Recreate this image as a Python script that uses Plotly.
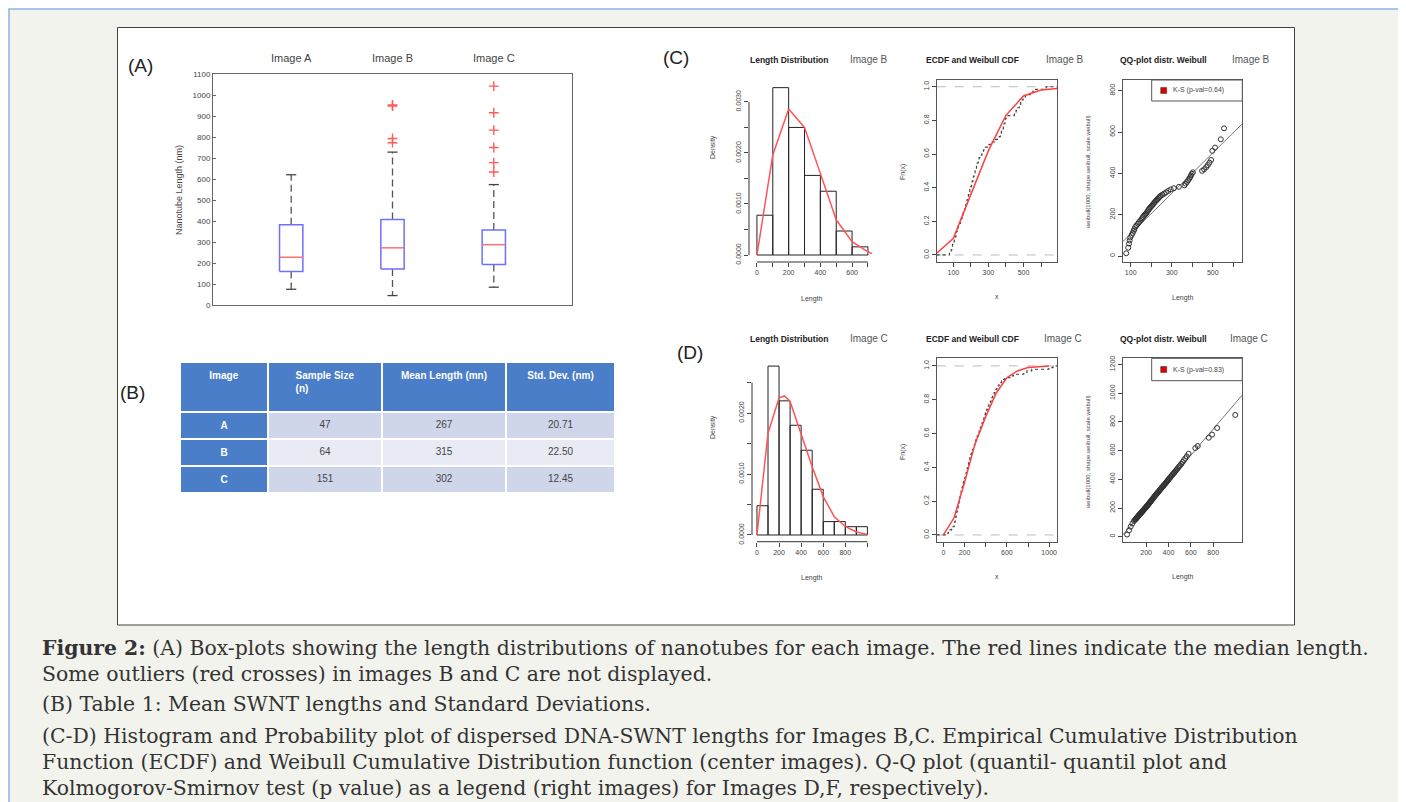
import plotly.graph_objects as go

OFF = 8  # browser body margin
W, H = 1406 - OFF, 802 - OFF
def px_x(p): return (p - OFF) / W
def px_y(p): return 1 - (p - OFF) / H

FONT = "Liberation Sans, Arial, sans-serif"
SERIF = "DejaVu Serif, serif"
TXT = "#333333"
BLUE = "#4a7ec8"

# ---------------- data ----------------
# (A) box plots
box_names = ["Image A", "Image B", "Image C"]
box_pos = [1, 2, 3]
box_q1 = [160, 172, 193]
box_med = [228, 273, 288]
box_q3 = [383, 408, 358]
box_lo = [75, 45, 85]
box_hi = [622, 730, 575]
outlier_pos = [2, 2, 2, 2, 3, 3, 3, 3, 3, 3]
outlier_val = [775, 795, 950, 955, 635, 680, 752, 835, 918, 1045]
box_yticks = list(range(0, 1101, 100))

# (B) table
table_header = ["Image", "Sample Size<br>(n)", "Mean Length (mn)", "Std. Dev. (nm)"]
table_image = ["A", "B", "C"]
table_n = [47, 64, 151]
table_mean = [267, 315, 302]
table_sd = ["20.71", "22.50", "12.45"]

# (C) Image B
histB_edges = [0, 100, 200, 300, 400, 500, 600, 700]
histB_density = [0.00078, 0.00328, 0.0025, 0.00156, 0.00125, 0.00047, 0.00016]
fitB_x = [0, 100, 200, 300, 400, 500, 600, 700, 725]
fitB_density = [0, 0.00196, 0.00286, 0.0025, 0.0016, 0.00069, 0.00026, 0.00006, 0.00003]
cdfB_x = [5, 100, 200, 300, 400, 500, 600, 693]
cdfB_F = [0.01, 0.099, 0.36, 0.62, 0.83, 0.945, 0.98, 0.99]
sampleB = [78, 88, 92, 95, 98, 105, 110, 115, 118, 122, 128, 135, 140, 146,
           152, 156, 160, 165, 170, 174, 178, 182, 186, 190, 194, 198,
           203, 207, 211, 215, 219, 224, 228, 232, 237, 242, 247,
           255, 263, 272, 283, 295,
           310, 335, 362, 368, 374, 380, 385, 390, 394, 398,
           403, 448, 458, 468, 476, 484, 492, 498, 511, 539, 555, 630]
theoB = [13, 40, 60, 75, 90, 102, 112, 122, 130, 140, 148, 156, 163, 170,
         177, 183, 189, 195, 200, 205, 210, 216, 222, 228, 233, 238,
         243, 248, 253, 258, 263, 268, 272, 277, 282, 287, 292,
         297, 302, 308, 315, 322,
         328, 335, 342, 350, 358, 366, 374, 382, 390, 398,
         405, 412, 420, 430, 440, 452, 465, 509, 525, 565, 618, 816]
qqlineB_x = [61, 644]
qqlineB_y = [69, 640]
ksB = "K-S (p-val=0.64)"

# (D) Image C
histC_edges = [0, 100, 200, 300, 400, 500, 600, 700, 800, 900, 1000]
histC_density = [0.00048, 0.00277, 0.0022, 0.0018, 0.00139, 0.00075, 0.00022, 0.00022, 0.000136, 0.000136]
fitC_x = [0, 100, 200, 250, 300, 400, 500, 600, 700, 800, 900, 1000]
fitC_density = [0, 0.00167, 0.00225, 0.00228, 0.00219, 0.00164, 0.00112, 0.00063, 0.0003, 0.00014, 0.00005, 0.00001]
cdfC_x = [0, 100, 200, 300, 400, 500, 600, 700, 800, 900, 1000]
cdfC_F = [0, 0.1, 0.31, 0.54, 0.70, 0.84, 0.93, 0.97, 0.99, 0.995, 1.0]
sampleC = [30, 48, 62, 78, 92,
           102, 105, 108, 112, 115, 118, 122, 125, 128, 132, 135, 138, 142, 145, 148, 152, 155, 158, 162, 165,
           168, 172, 175, 180, 184, 188, 193, 197,
           202, 206, 210, 214, 218, 222, 226, 230, 234, 238, 242, 246, 250, 255, 260, 265, 270, 276, 282, 288, 294, 299,
           303, 309, 315, 320, 326, 332, 338, 344, 350, 355, 360, 366, 372, 378, 384, 389, 394, 398,
           403, 410, 417, 424, 431, 438, 445, 452, 459, 466, 473, 480, 488, 496,
           505, 515, 526, 538, 550, 563, 580, 640, 662, 760, 790, 835, 997, 1036]
theoC = [15, 45, 70, 92, 110,
         118, 121, 124, 127, 130, 133, 136, 139, 142, 145, 148, 151, 154, 157, 160, 163, 166, 169, 172, 175,
         178, 181, 184, 188, 192, 196, 200, 204,
         208, 212, 216, 219, 223, 227, 231, 235, 239, 243, 247, 251, 255, 260, 265, 270, 275, 281, 287, 293, 298, 303,
         307, 312, 318, 323, 329, 334, 340, 345, 350, 355, 360, 365, 371, 376, 382, 387, 392, 396,
         401, 408, 414, 421, 428, 434, 441, 447, 454, 461, 467, 474, 482, 490,
         498, 508, 520, 533, 546, 560, 578, 618, 632, 690, 712, 758, 849, 1198]
qqlineC_x = [-9, 1060]
qqlineC_y = [12, 988]
ksC = "K-S (p-val=0.83)"

caption_lines = [
    "<b>Figure 2:</b> (A) Box-plots showing the length distributions of nanotubes for each image. The red lines indicate the median length.",
    "Some outliers (red crosses) in images B and C are not displayed.",
    "(B) Table 1: Mean SWNT lengths and Standard Deviations.",
    "(C-D) Histogram and Probability plot of dispersed DNA-SWNT lengths for Images B,C. Empirical Cumulative Distribution",
    "Function (ECDF) and Weibull Cumulative Distribution function (center images). Q-Q plot (quantil- quantil plot and",
    "Kolmogorov-Smirnov test (p value) as a legend (right images) for Images D,F, respectively).",
]
caption_y = [648, 674, 704, 736, 762, 788]

# ---------------- figure ----------------
fig = go.Figure()
axes = {}
shapes = []
annots = []

def ann(text, x, y, size, color=TXT, family=FONT, xanchor="center", angle=0, bold=False):
    annots.append(dict(text=("<b>%s</b>" % text) if bold else text, x=px_x(x), y=px_y(y),
                       xref="paper", yref="paper", showarrow=False, xanchor=xanchor, yanchor="middle",
                       textangle=angle, font=dict(size=size, color=color, family=family)))

def add_axes(n, xd, yd, xr, yr, xt, xl, yt, yl, frame, fs=7):
    s = "" if n == 1 else str(n)
    common = dict(showgrid=False, zeroline=False, automargin=False, ticks="outside", ticklen=4,
                  tickcolor="#444", tickwidth=1, tickfont=dict(size=fs, color="#444", family=FONT),
                  showline=frame, mirror=frame, linecolor="#555", linewidth=1, tickmode="array")
    axes["xaxis" + s] = dict(domain=[px_x(xd[0]), px_x(xd[1])], range=xr, anchor="y" + s,
                             tickvals=xt, ticktext=xl, **common)
    axes["yaxis" + s] = dict(domain=[px_y(yd[1]), px_y(yd[0])], range=yr, anchor="x" + s,
                             tickvals=yt, ticktext=yl, tickangle=-90, **common)

# page background & frames
shapes.append(dict(type="rect", xref="paper", yref="paper", x0=px_x(9), x1=px_x(1404), y0=px_y(830), y1=px_y(9),
                   fillcolor="#f3f3ee", line=dict(color="#8fb2e4", width=1.5), layer="below"))
shapes.append(dict(type="rect", xref="paper", yref="paper", x0=px_x(117.5), x1=px_x(1294.5), y0=px_y(625), y1=px_y(27.5),
                   fillcolor="white", line=dict(color="#444", width=1), layer="below"))

# ---- (A) box plot ----
axes["xaxis"] = dict(domain=[px_x(213), px_x(572)], range=[0.228, 3.772], anchor="y", side="top",
                     tickmode="array", tickvals=box_pos, ticktext=box_names, ticks="outside", ticklen=7,
                     tickcolor="rgba(0,0,0,0)", tickfont=dict(size=11, color="#444", family=FONT),
                     showline=True, mirror=True, linecolor="#666", showgrid=False, zeroline=False, automargin=False)
axes["yaxis"] = dict(domain=[px_y(305), px_y(74)], range=[0, 1103], anchor="x",
                     tickmode="array", tickvals=box_yticks, ticks="inside", ticklen=3, tickcolor="#666",
                     tickfont=dict(size=8, color="#444", family=FONT),
                     showline=True, mirror=True, linecolor="#666", showgrid=False, zeroline=False, automargin=False)
hw, cw = 0.115, 0.05
for p, q1, md, q3, lo, hi in zip(box_pos, box_q1, box_med, box_q3, box_lo, box_hi):
    fig.add_trace(go.Scatter(x=[p, p, None, p, p], y=[q3, hi, None, q1, lo], mode="lines",
                             line=dict(color="#555", width=1.3, dash="7px,4px"), xaxis="x", yaxis="y", hoverinfo="skip"))
    fig.add_trace(go.Scatter(x=[p - cw, p + cw, None, p - cw, p + cw], y=[hi, hi, None, lo, lo], mode="lines",
                             line=dict(color="#444", width=1.3), xaxis="x", yaxis="y", hoverinfo="skip"))
    fig.add_trace(go.Scatter(x=[p - hw, p + hw, p + hw, p - hw, p - hw], y=[q1, q1, q3, q3, q1], mode="lines",
                             line=dict(color="#6f6fff", width=1.5), xaxis="x", yaxis="y", hoverinfo="skip"))
    fig.add_trace(go.Scatter(x=[p - hw, p + hw], y=[md, md], mode="lines",
                             line=dict(color="#ff7070", width=1.5), xaxis="x", yaxis="y", hoverinfo="skip"))
fig.add_trace(go.Scatter(x=outlier_pos, y=outlier_val, mode="markers", xaxis="x", yaxis="y",
                         marker=dict(symbol="cross-thin", size=7, line=dict(color="#ff5a5a", width=1.4))))
ann("(A)", 140, 65, 19, color="#222")
ann("Nanotube Length (nm)", 179, 190, 9, angle=-90, color="#444")

# ---- (B) table ----
rowfill = ["#cfd6ea", "#e8ebf4", "#cfd6ea"]
fig.add_trace(go.Table(
    domain=dict(x=[px_x(180), px_x(615)], y=[px_y(500), px_y(362)]),
    columnwidth=[88, 114, 124, 109],
    header=dict(values=["<b>%s</b>" % h for h in table_header], fill_color=BLUE, align="center", height=50,
                font=dict(color="white", size=10, family=FONT), line=dict(color="white", width=2)),
    cells=dict(values=[["<b>%s</b>" % v for v in table_image], table_n, table_mean, table_sd],
               fill_color=[[BLUE] * 3, rowfill, rowfill, rowfill], align="center", height=26,
               font=dict(color=["white", "#444", "#444", "#444"], size=10, family=FONT),
               line=dict(color="white", width=2))))
ann("(B)", 132, 392, 19, color="#222")

# ---- helpers for R-like panels ----
def hist_panel(n, edges, dens, fx, fy):
    s = "" if n == 1 else str(n)
    centers = [(a + b) / 2 for a, b in zip(edges[:-1], edges[1:])]
    fig.add_trace(go.Bar(x=centers, y=dens, width=[b - a for a, b in zip(edges[:-1], edges[1:])],
                         marker=dict(color="rgba(0,0,0,0)", line=dict(color="#222", width=1)),
                         xaxis="x" + s, yaxis="y" + s, hoverinfo="skip"))
    fig.add_trace(go.Scatter(x=fx, y=fy, mode="lines", line=dict(color="#ff5555", width=1.5),
                             xaxis="x" + s, yaxis="y" + s, hoverinfo="skip"))

def ecdf_panel(n, sample, cx, cF, xr):
    s = "" if n == 1 else str(n)
    srt = sorted(sample)
    k = len(srt)
    ex = [xr[0]] + srt + [xr[1]]
    ey = [0] + [(i + 1) / k for i in range(k)] + [1]
    for yv in (0, 1):
        fig.add_trace(go.Scatter(x=xr, y=[yv, yv], mode="lines", line=dict(color="#bbb", width=1, dash="dash"),
                                 xaxis="x" + s, yaxis="y" + s, hoverinfo="skip"))
    fig.add_trace(go.Scatter(x=ex, y=ey, mode="lines", line=dict(color="#444", width=1.2, dash="dot", shape="hv"),
                             xaxis="x" + s, yaxis="y" + s, hoverinfo="skip"))
    fig.add_trace(go.Scatter(x=cx, y=cF, mode="lines", line=dict(color="#ff4040", width=1.5),
                             xaxis="x" + s, yaxis="y" + s, hoverinfo="skip"))

def qq_panel(n, sx, ty, lx, ly):
    s = "" if n == 1 else str(n)
    fig.add_trace(go.Scatter(x=lx, y=ly, mode="lines", line=dict(color="#777", width=1),
                             xaxis="x" + s, yaxis="y" + s, hoverinfo="skip"))
    fig.add_trace(go.Scatter(x=sx, y=ty, mode="markers", cliponaxis=True,
                             marker=dict(symbol="circle-open", size=5, color="#333", line=dict(width=1)),
                             xaxis="x" + s, yaxis="y" + s, hoverinfo="skip"))

def axis_lines(n, x0, x1, y0, y1):
    s = "" if n == 1 else str(n)
    shapes.append(dict(type="line", xref="x" + s, yref="y%s domain" % s, x0=x0, x1=x1, y0=0, y1=0,
                       line=dict(color="#333", width=1)))
    shapes.append(dict(type="line", xref="x%s domain" % s, yref="y" + s, x0=0, x1=0, y0=y0, y1=y1,
                       line=dict(color="#333", width=1)))

def legend_box(x0, y0, x1, y1, text):
    shapes.append(dict(type="rect", xref="paper", yref="paper", x0=px_x(x0), x1=px_x(x1), y0=px_y(y1), y1=px_y(y0),
                       fillcolor="white", line=dict(color="#555", width=1)))
    cy = (y0 + y1) / 2
    shapes.append(dict(type="rect", xref="paper", yref="paper", x0=px_x(x0 + 9), x1=px_x(x0 + 15),
                       y0=px_y(cy + 3), y1=px_y(cy - 3), fillcolor="#dd0000", line=dict(color="#333", width=0.5)))
    ann(text, x0 + 19, cy, 7, color="#444", xanchor="left")

def titles(cx, y, main, img, img_x):
    ann(main, cx, y, 8.5, color="#222", bold=True)
    ann(img, img_x, y - 1, 10, color="#555", xanchor="left")

# ---- (C) row: Image B ----
add_axes(2, (749, 872.7), (80, 262), [-50, 730], [-0.000137, 0.00343],
         list(range(0, 701, 100)), ["0", "", "200", "", "400", "", "600", ""],
         [0, 0.0005, 0.001, 0.0015, 0.002, 0.0025, 0.003], ["0.0000", "", "0.0010", "", "0.0020", "", "0.0030"], False)
hist_panel(2, histB_edges, histB_density, fitB_x, fitB_density)
axis_lines(2, 0, 700, 0, 0.003)

add_axes(3, (936.7, 1057.3), (80, 261.7), [5, 693], [-0.04, 1.04],
         [100, 200, 300, 400, 500, 600], ["100", "", "300", "", "500", ""],
         [0, 0.2, 0.4, 0.6, 0.8, 1.0], ["0.0", "0.2", "0.4", "0.6", "0.8", "1.0"], True)
ecdf_panel(3, sampleB, cdfB_x, cdfB_F, [5, 693])

add_axes(4, (1122.7, 1242.3), (80, 261.7), [61, 644], [-27.6, 852],
         [100, 200, 300, 400, 500, 600], ["100", "", "300", "", "500", ""],
         [0, 200, 400, 600, 800], ["0", "200", "400", "600", "800"], True)
qq_panel(4, sampleB, theoB, qqlineB_x, qqlineB_y)
legend_box(1151.7, 80, 1242.3, 101, ksB)

titles(789, 60, "Length Distribution", "Image B", 848)
titles(972, 60, "ECDF and Weibull CDF", "Image B", 1044)
titles(1163, 60, "QQ-plot distr. Weibull", "Image B", 1230)
ann("Density", 713, 147, 7, color="#444", angle=-90)
ann("Length", 812, 299, 7, color="#444")
ann("Fn(x)", 903, 172, 7, color="#444", angle=-90)
ann("x", 997, 297, 7, color="#444")
ann("weibull(1000, shape.weibull, scale.weibull)", 1088, 172, 6, color="#444", angle=-90)
ann("Length", 1183, 298, 7, color="#444")
ann("(C)", 676, 57, 19, color="#222")

# ---- (D) row: Image C ----
add_axes(5, (752, 868.5), (360, 541.7), [-45, 1010], [-0.00011, 0.00287],
         list(range(0, 1001, 200)), ["0", "200", "400", "600", "800", ""],
         [0, 0.0005, 0.001, 0.0015, 0.002, 0.0025], ["0.0000", "", "0.0010", "", "0.0020", ""], False)
hist_panel(5, histC_edges, histC_density, fitC_x, fitC_density)
axis_lines(5, 0, 1000, 0, 0.0025)

add_axes(6, (936.7, 1057.3), (358.3, 541.7), [-63, 1077], [-0.04, 1.045],
         list(range(0, 1001, 200)), ["0", "200", "", "600", "", "1000"],
         [0, 0.2, 0.4, 0.6, 0.8, 1.0], ["0.0", "0.2", "0.4", "0.6", "0.8", "1.0"], True)
ecdf_panel(6, sampleC, cdfC_x, cdfC_F, [-63, 1077])

add_axes(7, (1122.7, 1242.3), (358.3, 541.7), [-9, 1060], [-35, 1244],
         [200, 400, 600, 800], ["200", "400", "600", "800"],
         [0, 200, 400, 600, 800, 1000, 1200], ["0", "200", "400", "600", "800", "1000", "1200"], True)
qq_panel(7, sampleC, theoC, qqlineC_x, qqlineC_y)
legend_box(1151.7, 358.3, 1242.3, 380.7, ksC)

titles(789, 339, "Length Distribution", "Image C", 848)
titles(972, 339, "ECDF and Weibull CDF", "Image C", 1042)
titles(1163, 339, "QQ-plot distr. Weibull", "Image C", 1228)
ann("Density", 713, 427, 7, color="#444", angle=-90)
ann("Length", 812, 578, 7, color="#444")
ann("Fn(x)", 903, 452, 7, color="#444", angle=-90)
ann("x", 997, 576, 7, color="#444")
ann("weibull(1000, shape.weibull, scale.weibull)", 1088, 452, 6, color="#444", angle=-90)
ann("Length", 1183, 577, 7, color="#444")
ann("(D)", 690, 352, 19, color="#222")

# ---- caption ----
for t, yv in zip(caption_lines, caption_y):
    ann(t, 40, yv, 20.4, color="#333", family=SERIF, xanchor="left")

fig.update_layout(width=W, height=H, margin=dict(l=0, r=0, t=0, b=0), template="none",
                  paper_bgcolor="white", plot_bgcolor="rgba(0,0,0,0)", showlegend=False,
                  shapes=shapes, annotations=annots, **axes)
fig.write_html("out.html")
